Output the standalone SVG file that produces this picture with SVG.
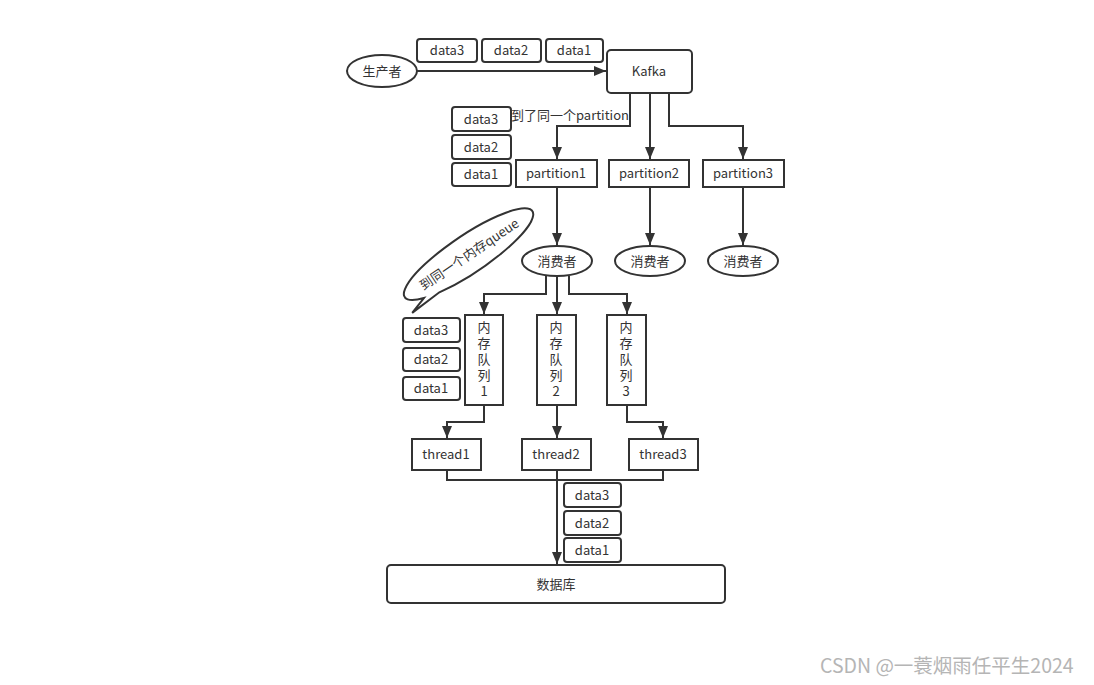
<svg xmlns="http://www.w3.org/2000/svg" width="1094" height="685" viewBox="0 0 1094 685">
<defs>
<marker id="arr" viewBox="0 0 12 12" refX="12" refY="6" markerWidth="12" markerHeight="12" markerUnits="userSpaceOnUse" orient="auto">
<path d="M0,1 L12,6 L0,11 Z" fill="#333"/>
</marker>
</defs>
<style>
.box{fill:#fff;stroke:#333;stroke-width:2}
.t{font-family:"Noto Sans CJK SC","Noto Sans",sans-serif;font-size:13px;fill:#333;text-anchor:middle}
.v{font-family:"Noto Sans CJK SC","Noto Sans",sans-serif;font-size:13px;fill:#333;writing-mode:vertical-rl;text-orientation:upright;letter-spacing:3px}
.c{fill:none;stroke:#333;stroke-width:2;marker-end:url(#arr)}
.l{fill:none;stroke:#333;stroke-width:2}
</style>
<rect width="1094" height="685" fill="#fff"/>

<g id="connectors">
<path class="c" d="M417,71 H606"/>
<path class="c" d="M630,93 V126 H557 V159"/>
<path class="c" d="M650,93 V159"/>
<path class="c" d="M669,93 V126 H743 V159"/>
<path class="c" d="M557,187 V245"/>
<path class="c" d="M650,187 V245"/>
<path class="c" d="M743,187 V245"/>
<path class="c" d="M546,276 V294 H484 V314"/>
<path class="c" d="M557,276 V314"/>
<path class="c" d="M569,276 V294 H627 V314"/>
<path class="c" d="M484,405 V422 H447 V438"/>
<path class="c" d="M557,405 V438"/>
<path class="c" d="M627,405 V422 H663 V438"/>
<path class="l" d="M447,470 V480 H663 V470"/>
<path class="c" d="M557,470 V564"/>
</g>

<g id="producer">
<ellipse class="box" cx="382" cy="71" rx="35" ry="16"/>
<text class="t" x="382" y="76">生产者</text>
</g>
<g id="kafka">
<rect class="box" x="607" y="50" width="85" height="43" rx="4"/>
<text class="t" x="649" y="76">Kafka</text>
</g>
<g id="top-data">
<rect class="box" x="417" y="39" width="60" height="23" rx="3"/><text class="t" x="447" y="55">data3</text>
<rect class="box" x="482" y="39" width="59" height="23" rx="3"/><text class="t" x="511" y="55">data2</text>
<rect class="box" x="546" y="39" width="57" height="23" rx="3"/><text class="t" x="574" y="55">data1</text>
</g>
<g id="label-partition">
<text class="t" x="570" y="120">到了同一个partition</text>
</g>
<g id="partition-data">
<rect class="box" x="452" y="107" width="59" height="24" rx="3"/><text class="t" x="481" y="124">data3</text>
<rect class="box" x="452" y="135" width="59" height="24" rx="3"/><text class="t" x="481" y="152">data2</text>
<rect class="box" x="452" y="163" width="59" height="23" rx="3"/><text class="t" x="481" y="179">data1</text>
</g>
<g id="partition1">
<rect class="box" x="516" y="160" width="81" height="27"/><text class="t" x="556" y="178">partition1</text>
</g>
<g id="partition2">
<rect class="box" x="609" y="160" width="80" height="27"/><text class="t" x="649" y="178">partition2</text>
</g>
<g id="partition3">
<rect class="box" x="703" y="160" width="81" height="27"/><text class="t" x="743" y="178">partition3</text>
</g>
<g id="consumer1">
<ellipse class="box" cx="557" cy="261" rx="35" ry="15"/><text class="t" x="557" y="266">消费者</text>
</g>
<g id="consumer2">
<ellipse class="box" cx="650" cy="261" rx="35" ry="15"/><text class="t" x="650" y="266">消费者</text>
</g>
<g id="consumer3">
<ellipse class="box" cx="743" cy="261" rx="35" ry="15"/><text class="t" x="743" y="266">消费者</text>
</g>
<g id="callout" transform="translate(469,254) rotate(-34)">
<path class="box" d="M-46,15.2 A77,19 0 1 0 -62,11.3 L-80,17 Z"/>
<text class="t" x="0" y="5">到同一个内存queue</text>
</g>
<g id="queue-data">
<rect class="box" x="403" y="318" width="57" height="24" rx="3"/><text class="t" x="431" y="335">data3</text>
<rect class="box" x="403" y="348" width="57" height="23" rx="3"/><text class="t" x="431" y="364">data2</text>
<rect class="box" x="403" y="377" width="57" height="23" rx="3"/><text class="t" x="431" y="393">data1</text>
</g>
<g id="queue1">
<rect class="box" x="465" y="315" width="38" height="90"/>
<text class="v" x="484" y="321">内存队列1</text>
</g>
<g id="queue2">
<rect class="box" x="537" y="315" width="39" height="90"/>
<text class="v" x="556" y="321">内存队列2</text>
</g>
<g id="queue3">
<rect class="box" x="607" y="315" width="39" height="90"/>
<text class="v" x="626" y="321">内存队列3</text>
</g>
<g id="thread1">
<rect class="box" x="412" y="439" width="69" height="31"/><text class="t" x="446" y="459">thread1</text>
</g>
<g id="thread2">
<rect class="box" x="522" y="439" width="69" height="31"/><text class="t" x="556" y="459">thread2</text>
</g>
<g id="thread3">
<rect class="box" x="629" y="439" width="69" height="31"/><text class="t" x="663" y="459">thread3</text>
</g>
<g id="db-data">
<rect class="box" x="564" y="483" width="57" height="24" rx="3"/><text class="t" x="592" y="500">data3</text>
<rect class="box" x="564" y="511" width="57" height="24" rx="3"/><text class="t" x="592" y="528">data2</text>
<rect class="box" x="564" y="538" width="57" height="24" rx="3"/><text class="t" x="592" y="555">data1</text>
</g>
<g id="database">
<rect class="box" x="387" y="565" width="338" height="38" rx="4"/><text class="t" x="556" y="589">数据库</text>
</g>
<text x="820" y="673" style="font-family:'Noto Sans CJK SC','Noto Sans',sans-serif;font-size:19.5px;fill:#b5b5b5">CSDN @一蓑烟雨任平生2024</text>
</svg>
